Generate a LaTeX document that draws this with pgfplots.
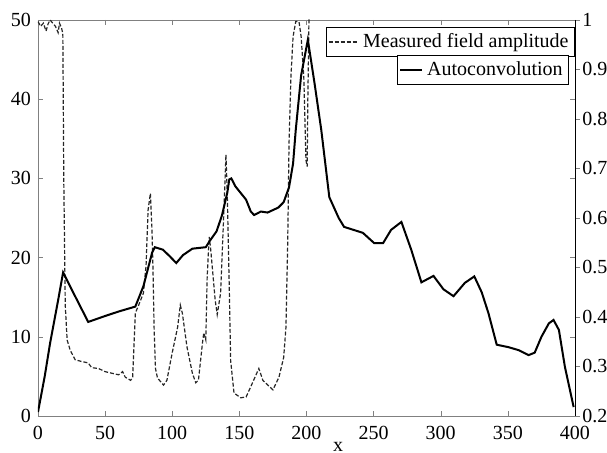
\documentclass[border=0pt]{standalone}
\usepackage{fontspec}
\setmainfont{Liberation Serif}
\usepackage{pgfplots}
\pgfplotsset{compat=1.18}
\begin{document}
\fontsize{10}{12}\selectfont
\begin{tikzpicture}
% whole image is 607x453 px, 1 px = 0.5 pt, axis box from (38,20) to (575,416) px
\path[use as bounding box] (-19pt,-18.5pt) rectangle (284.5pt,208pt);
\begin{axis}[
    at={(0pt,0pt)}, anchor=south west,
    scale only axis, width=268.5pt, height=198pt,
    xmin=0, xmax=400, ymin=0, ymax=50,
    xtick={0,50,...,400}, ytick={0,10,...,50},
    tick align=inside, major tick length=2.5pt,
    axis line style={gray},
    tick style={gray},
    xlabel={x},
    xlabel style={at={(axis description cs:0.559,0)}, anchor=center, yshift=-15.5pt},
    ticklabel style={font=\fontsize{10}{12}\selectfont},
    xticklabel style={yshift=-1.5pt},
    /pgf/number format/assume math mode=true,
    legend style={at={(1,0.982)}, anchor=north east, draw=black,
        font=\fontsize{10}{12}\selectfont, inner sep=1pt, row sep=-1pt},
    legend image code/.code={\draw[#1] (0pt,0pt) -- (15pt,0pt);},
]
\addplot[black!85, line width=0.6pt, dash pattern=on 2pt off 1pt] coordinates {
(0,49.8) (2,49.2) (4,49.6) (6,48.6) (7.5,49.5) (9,50) (11,49.6) (13,49.2)
(15,48.4) (16,49.6) (17.5,49.0) (18.5,48.3) (19.2,30) (20.3,14) (21.7,9.6)
(24,8.3) (27.7,7.1) (32,6.9) (37.4,6.7) (40,6.1) (45,6.0) (50,5.6) (55,5.4)
(60,5.2) (63,5.6) (65,4.9) (69,4.5) (70.5,4.9) (72.5,13) (75,14) (78.5,15.5)
(80.5,19) (82,26) (83.7,28.1) (84.8,24) (85.6,19) (86.5,11) (87.5,6) (89,4.8)
(93.5,3.9) (96,4.5) (100,8) (104,11.2) (106,14) (107.5,13) (111,8.7) (115,5.4)
(117.5,4.2) (119.5,4.5) (122.5,9.2) (123.5,10.5) (125,9.6) (126,17.5)
(127.5,22.6) (128.5,21.3) (132,14.6) (133.5,12.8) (136,15.5) (138.5,26)
(140,33) (141,28) (142.5,16) (143.5,7) (146,2.9) (151,2.3) (155,2.4)
(158.5,3.7) (164.5,6) (167.5,4.5) (175,3.3) (179.5,4.9) (183,7.4) (184.7,11.2)
(186,21.8) (187,34.5) (188.4,42.8) (190,47.9) (192,49.8) (194.4,49.8)
(196,47.9) (198,42.8) (199.6,32.3) (200.5,31.5) (201,40) (202,52)
};
\addlegendentry{Measured field amplitude}
\end{axis}
\begin{axis}[
    at={(0pt,0pt)}, anchor=south west,
    scale only axis, width=268.5pt, height=198pt,
    xmin=0, xmax=400, ymin=0.2, ymax=1,
    axis x line=none,
    axis y line*=right,
    ytick={0.2,0.3,...,1.0},
    yticklabels={0.2,0.3,0.4,0.5,0.6,0.7,0.8,0.9,1},
    tick align=outside, major tick length=2.5pt,
    ticklabel style={font=\fontsize{10}{12}\selectfont},
    yticklabel style={inner sep=0pt, xshift=1pt},
    legend style={at={(0.989,0.912)}, anchor=north east, draw=black,
        font=\fontsize{10}{12}\selectfont, inner sep=1pt, row sep=-1pt},
    legend image code/.code={\draw[#1] (0pt,0pt) -- (11pt,0pt);},
]
\addplot[black, line width=1pt] coordinates {
(0,0.208) (5,0.28) (9,0.347) (15,0.434) (18.7,0.490) (28,0.44) (37.4,0.390)
(50,0.402) (60,0.411) (72.5,0.421) (78.5,0.462) (85,0.53) (87,0.541)
(93,0.536) (98,0.523) (103,0.509) (108,0.525) (115,0.538) (125,0.541)
(128,0.554) (133,0.573) (137,0.605) (141,0.651) (142.5,0.678) (144,0.680)
(147,0.664) (155,0.637) (158.5,0.613) (161,0.606) (166,0.613) (171,0.611)
(179,0.621) (183,0.632) (187,0.662) (190,0.710) (192,0.778) (196,0.888)
(201,0.96) (206,0.872) (211,0.778) (217,0.642) (224,0.600) (228,0.582)
(235,0.576) (242,0.570) (250.5,0.549) (257,0.549) (263,0.576) (270.7,0.592)
(278,0.536) (285.6,0.470) (294.6,0.483) (302,0.456) (309.5,0.442)
(318,0.469) (325,0.482) (330.5,0.45) (335.5,0.408) (341.7,0.344)
(350.5,0.339) (358,0.333) (365.5,0.323) (370,0.328) (375,0.36)
(380.5,0.387) (384,0.394) (388,0.374) (392.5,0.299) (399,0.218)
};
\addlegendentry{Autoconvolution}
\end{axis}
\end{tikzpicture}
\end{document}
